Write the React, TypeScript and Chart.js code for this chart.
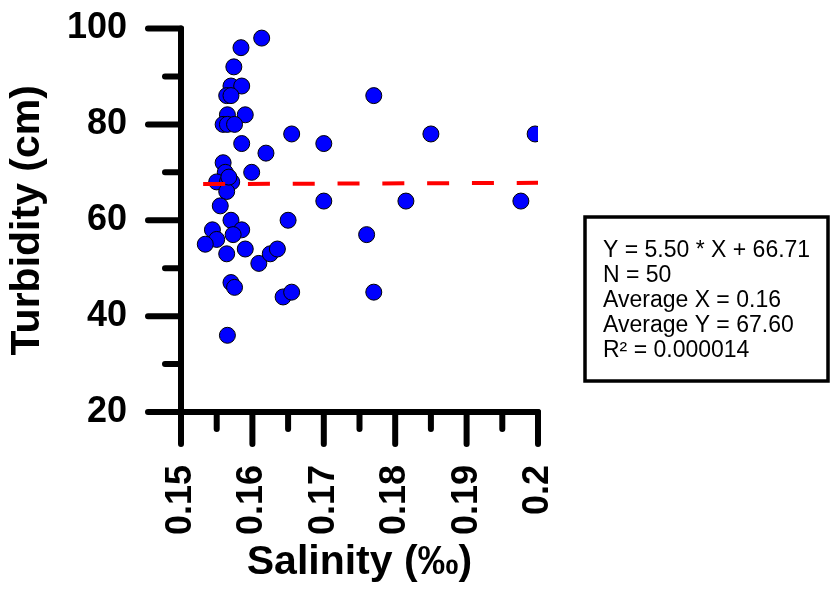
import React, { useEffect, useRef } from "react";
import { Chart, registerables } from "chart.js";

Chart.register(...registerables);

// Salinity (‰) and turbidity (cm) observations
const salinity = [
  0.1613, 0.1584, 0.1574, 0.157, 0.1585, 0.1564, 0.157, 0.159, 0.1565, 0.1559,
  0.1565, 0.1575, 0.1585, 0.1619, 0.1559, 0.1562, 0.1599, 0.155, 0.1565, 0.1571,
  0.1564, 0.1555, 0.157, 0.1544, 0.1585, 0.1573, 0.155, 0.1534, 0.159, 0.1564,
  0.1609, 0.1625, 0.1635, 0.157, 0.1575, 0.1565, 0.1643, 0.1655, 0.165, 0.177,
  0.1655, 0.185, 0.1996, 0.17, 0.17, 0.1815, 0.1976, 0.176, 0.177, 0.1567,
];
const turbidity = [
  98, 96, 92, 88, 88, 86, 86, 82, 82, 80,
  80, 80, 76, 74, 72, 70, 70, 68, 68, 68,
  66, 63, 60, 58, 58, 57, 56, 55, 54, 53,
  51, 53, 54, 47, 46, 36, 44, 45, 60, 86,
  78, 78, 78, 76, 64, 64, 64, 57, 45, 69,
];

// Regression line
const fitSlope = 5.5;
const fitIntercept = 66.71;
const fitXRange = [0.1531, 0.2];

// Axes
const xMajorTicks = [0.15, 0.16, 0.17, 0.18, 0.19, 0.2];
const xMinorTicks = [0.155, 0.165, 0.175, 0.185, 0.195];
const xTickLabels = ["0.15", "0.16", "0.17", "0.18", "0.19", "0.2"];
const yMajorTicks = [20, 40, 60, 80, 100];
const yMinorTicks = [30, 50, 70, 90];

const statsLines = [
  "Y = 5.50 * X + 66.71",
  "N = 50",
  "Average X = 0.16",
  "Average Y = 67.60",
  "R\u00B2 = 0.000014",
];

const FONT = "'Liberation Sans', Arial, Helvetica, sans-serif";

const axesPlugin = {
  id: "customAxes",
  beforeDatasetsDraw(chart: any) {
    const { ctx, scales } = chart;
    const xs = scales.x;
    const ys = scales.y;
    const left = xs.getPixelForValue(xMajorTicks[0]);
    const right = xs.getPixelForValue(xMajorTicks[xMajorTicks.length - 1]);
    const bottom = ys.getPixelForValue(yMajorTicks[0]);
    const top = ys.getPixelForValue(yMajorTicks[yMajorTicks.length - 1]);
    ctx.save();
    ctx.strokeStyle = "#000";
    ctx.lineWidth = 6;
    ctx.lineCap = "round";
    ctx.lineJoin = "miter";
    ctx.beginPath();
    ctx.moveTo(left, top);
    ctx.lineTo(left, bottom);
    ctx.lineTo(right, bottom);
    ctx.stroke();
    ctx.beginPath();
    for (const v of yMajorTicks) {
      const p = ys.getPixelForValue(v);
      ctx.moveTo(left - 33, p);
      ctx.lineTo(left, p);
    }
    for (const v of yMinorTicks) {
      const p = ys.getPixelForValue(v);
      ctx.moveTo(left - 16, p);
      ctx.lineTo(left, p);
    }
    for (const v of xMajorTicks) {
      const p = xs.getPixelForValue(v);
      ctx.moveTo(p, bottom);
      ctx.lineTo(p, bottom + 32);
    }
    for (const v of xMinorTicks) {
      const p = xs.getPixelForValue(v);
      ctx.moveTo(p, bottom);
      ctx.lineTo(p, bottom + 17);
    }
    ctx.stroke();
    ctx.restore();
  },
};

const statsPlugin = {
  id: "statsBox",
  afterDraw(chart: any) {
    const { ctx } = chart;
    ctx.save();
    ctx.strokeStyle = "#000";
    ctx.lineWidth = 3.5;
    ctx.strokeRect(585, 217, 243, 164);
    ctx.fillStyle = "#000";
    ctx.font = `23px ${FONT}`;
    ctx.textAlign = "left";
    ctx.textBaseline = "alphabetic";
    statsLines.forEach((t, i) => {
      ctx.fillText(t, 603, 257 + i * 25);
    });
    ctx.restore();
  },
};

export default function App() {
  const ref = useRef<HTMLCanvasElement | null>(null);

  useEffect(() => {
    if (!ref.current) return;
    const points = salinity.map((x, i) => ({ x, y: turbidity[i] }));
    const fitLine = fitXRange.map((x) => ({ x, y: fitSlope * x + fitIntercept }));
    const chart = new Chart(ref.current, {
      type: "scatter",
      data: {
        datasets: [
          {
            type: "line",
            label: "Fit",
            data: fitLine,
            borderColor: "#ff0000",
            borderWidth: 4,
            borderDash: [22, 22.8],
            pointRadius: 0,
            fill: false,
            order: 0,
          } as any,
          {
            label: "Observations",
            data: points,
            backgroundColor: "#0000ff",
            borderColor: "#000000",
            borderWidth: 1,
            pointRadius: 8,
            order: 1,
          },
        ],
      },
      options: {
        responsive: false,
        animation: false,
        events: [],
        layout: { padding: { left: 0, top: 28.5, right: 295, bottom: 0 } },
        plugins: {
          legend: { display: false },
          tooltip: { enabled: false },
        },
        scales: {
          x: {
            type: "linear",
            min: 0.15,
            max: 0.2,
            grid: { display: false, drawTicks: true, tickLength: 53 },
            border: { display: false },
            afterFit: (s: any) => {
              s.height = 183;
            },
            afterBuildTicks: (s: any) => {
              s.ticks = xMajorTicks.map((v) => ({ value: v }));
            },
            ticks: {
              autoSkip: false,
              minRotation: 90,
              maxRotation: 90,
              padding: 0,
              color: "#000",
              font: { family: FONT, size: 36, weight: "bold" },
              callback: (v: any) => {
                const i = xMajorTicks.findIndex((t) => Math.abs(t - Number(v)) < 1e-6);
                return i >= 0 ? xTickLabels[i] : "";
              },
            },
            title: {
              display: true,
              text: "Salinity (\u2030)",
              color: "#000",
              font: { family: FONT, size: 41, weight: "bold" },
              padding: { top: 0, bottom: 8 },
            },
          },
          y: {
            type: "linear",
            min: 20,
            max: 100,
            grid: { display: false, drawTicks: true, tickLength: 54 },
            border: { display: false },
            afterFit: (s: any) => {
              s.width = 181;
            },
            afterBuildTicks: (s: any) => {
              s.ticks = yMajorTicks.map((v) => ({ value: v }));
            },
            ticks: {
              padding: 0,
              color: "#000",
              font: { family: FONT, size: 36, weight: "bold" },
            },
            title: {
              display: true,
              text: "Turbidity (cm)",
              color: "#000",
              font: { family: FONT, size: 41, weight: "bold" },
              padding: { top: 3, bottom: 0 },
            },
          },
        },
      },
      plugins: [axesPlugin, statsPlugin],
    });
    return () => chart.destroy();
  }, []);

  return (
    <div style={{ position: "absolute", left: 0, top: 0, width: 833, height: 595, background: "#fff" }}>
      <canvas ref={ref} width={833} height={595} style={{ width: 833, height: 595, display: "block" }} />
    </div>
  );
}
